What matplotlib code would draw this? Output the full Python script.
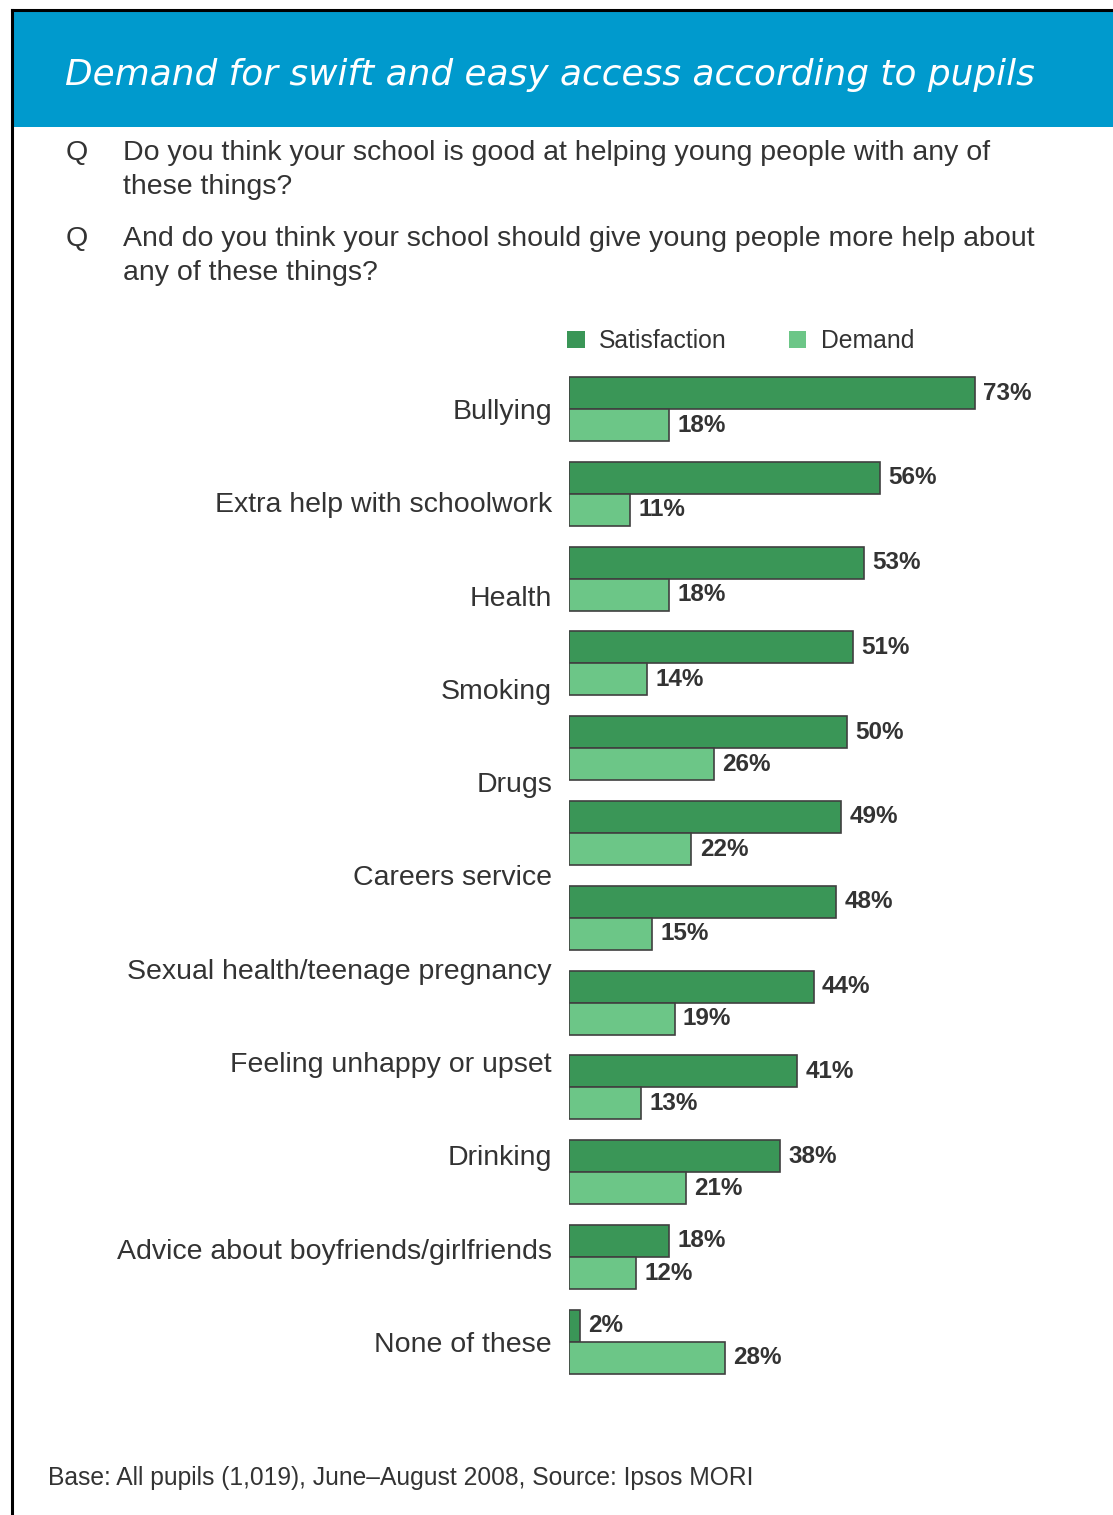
import numpy as np
import matplotlib
matplotlib.use("Agg")
import matplotlib.pyplot as plt
from matplotlib.patches import Patch, Rectangle

# data
categories = ["Bullying", "Extra help with schoolwork", "Health", "Smoking", "Drugs",
              "Careers service", "Sexual health/teenage pregnancy", "Feeling unhappy or upset",
              "Drinking", "Advice about boyfriends/girlfriends", "None of these"]
satisfaction = [73, 56, 53, 51, 50, 49, 48, 44, 41, 38, 18, 2]
demand = [18, 11, 18, 14, 26, 22, 15, 19, 13, 21, 12, 28]

title = "Demand for swift and easy access according to pupils"
questions = [("Do you think your school is good at helping young people with any of",
              "these things?"),
             ("And do you think your school should give young people more help about",
              "any of these things?")]
footer = "Base: All pupils (1,019), June\u2013August 2008, Source: Ipsos MORI"

W, H = 1113, 1515
DARK = "#3a9657"
LIGHT = "#6cc687"
BLUE = "#009acd"
TEXT = "#333333"

plt.rcParams["font.family"] = ["Liberation Sans", "DejaVu Sans"]

fig = plt.figure(figsize=(W / 100, H / 100), dpi=100)

# header band and frame lines
fig.patches.append(Rectangle((12 / W, 1 - 127 / H), 1 - 12 / W, 117 / H,
                             transform=fig.transFigure, facecolor=BLUE, edgecolor="none", zorder=0))
fig.add_artist(plt.Line2D([12 / W, 1], [1 - 10 / H, 1 - 10 / H], color="black", lw=2.2,
                          transform=fig.transFigure))
fig.add_artist(plt.Line2D([12 / W, 12 / W], [0, 1 - 10 / H], color="black", lw=2.2,
                          transform=fig.transFigure))
fig.text(65 / W, 1 - 75 / H, title, color="white", fontsize=25.8, style="italic",
         family="DejaVu Sans", va="center", ha="left")

# question lines
qy = [153, 239]
for (l1, l2), y in zip(questions, qy):
    fig.text(66 / W, 1 - y / H, "Q", fontsize=20.5, color=TEXT, va="center")
    fig.text(123 / W, 1 - y / H, l1, fontsize=20.5, color=TEXT, va="center")
    fig.text(123 / W, 1 - (y + 34) / H, l2, fontsize=20.5, color=TEXT, va="center")

fig.text(48 / W, 1 - 1478 / H, footer, fontsize=17.7, color=TEXT, va="center")

# bar axes: 0% at x=569px, 5.56 px per percent, pairs spaced 84.8 px
n = len(satisfaction)
px_pct = 5.56
step = 84.8
x0 = 569
top = 409 - step / 2
ax = fig.add_axes([x0 / W, 1 - (top + n * step) / H, (W - x0) / W, n * step / H])
ax.set_xlim(0, (W - x0) / px_pct)
ax.set_ylim(n - 0.5, -0.5)

pos = np.arange(n)
bh = 32 / step
ax.barh(pos - bh / 2, satisfaction, height=bh, color=DARK, edgecolor="#404040", linewidth=1.2)
ax.barh(pos + bh / 2, demand, height=bh, color=LIGHT, edgecolor="#404040", linewidth=1.2)

for i in range(n):
    ax.annotate(f"{satisfaction[i]}%", (satisfaction[i], i - bh / 2), xytext=(6, 0),
                textcoords="offset points", va="center", ha="left",
                fontsize=17.5, fontweight="bold", color=TEXT)
    ax.annotate(f"{demand[i]}%", (demand[i], i + bh / 2), xytext=(6, 0),
                textcoords="offset points", va="center", ha="left",
                fontsize=17.5, fontweight="bold", color=TEXT)

# category labels are spread evenly over the bar block in the original
ax.set_yticks(np.linspace(0, n - 1, len(categories)))
ax.set_yticklabels(categories, fontsize=20.5, color=TEXT)
ax.tick_params(axis="y", length=0, pad=12.2)
ax.set_xticks([])
for s in ax.spines.values():
    s.set_visible(False)

handles = [Patch(facecolor=DARK, edgecolor="none", label="Satisfaction"),
           Patch(facecolor=LIGHT, edgecolor="none", label="Demand")]
fig.legend(handles=handles, loc="center left", bbox_to_anchor=(545 / W, 1 - 341 / H),
           ncol=2, frameon=False, fontsize=17.8, handlelength=0.7, handleheight=0.7,
           handletextpad=0.6, columnspacing=2.5, labelcolor=TEXT)

fig.savefig("out.png", dpi=100)
